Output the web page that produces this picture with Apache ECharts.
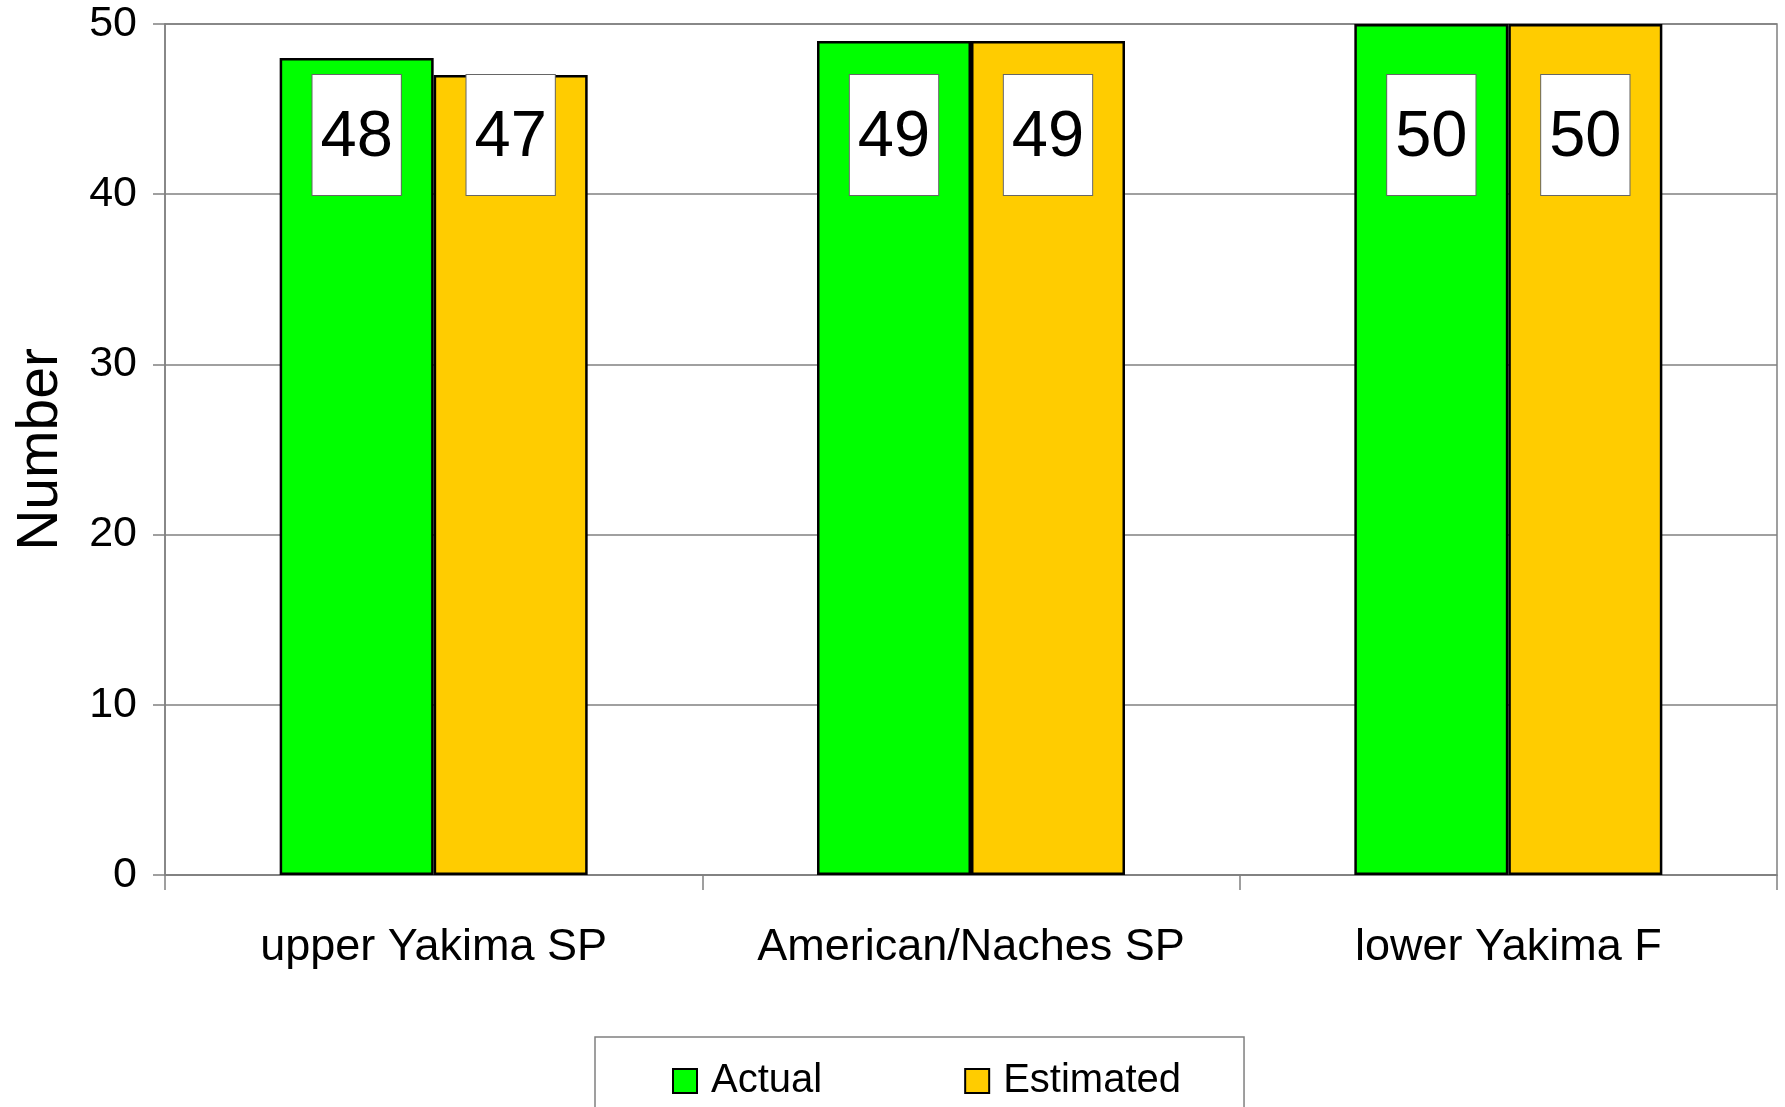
<!DOCTYPE html>
<html>
<head>
<meta charset="utf-8">
<script src="https://cdn.jsdelivr.net/npm/echarts@6/dist/echarts.min.js"></script>
<style>
html,body{margin:0;padding:0;background:#fff;}
#chart{width:1785px;height:1107px;}
</style>
</head>
<body>
<div id="chart"></div>
<script>
const categories = ['upper Yakima SP', 'American/Naches SP', 'lower Yakima F'];
const actualValues = [48, 49, 50];
const estimatedValues = [47, 49, 50];
const seriesNames = ['Actual', 'Estimated'];

const FONT = '"Liberation Sans", Arial, Helvetica, sans-serif';
const chart = echarts.init(document.getElementById('chart'), null, {renderer: 'canvas'});

const labelStyle = {
  show: true,
  position: 'insideBottom',
  distance: 680,
  fontFamily: FONT,
  fontSize: 65,
  color: '#000',
  backgroundColor: '#fff',
  borderColor: '#666',
  borderWidth: 1,
  padding: [6, 8, 0, 8],
  lineHeight: 114
};

chart.setOption({
  backgroundColor: '#fff',
  animation: false,
  grid: {
    left: 165, right: 8, top: 24, bottom: 232,
    show: true, borderColor: '#808080', borderWidth: 1.5, backgroundColor: 'transparent'
  },
  legend: {
    data: seriesNames,
    left: 595, top: 1037,
    orient: 'horizontal',
    itemWidth: 24, itemHeight: 24, itemGap: 142,
    padding: [24, 63, 60, 77],
    borderColor: '#808080', borderWidth: 1.5,
    backgroundColor: '#fff',
    icon: 'rect',
    textStyle: {fontFamily: FONT, fontSize: 40, color: '#000', padding: [0, 0, 0, 9]}
  },
  xAxis: {
    type: 'category',
    data: categories,
    axisLine: {lineStyle: {color: '#808080', width: 1.5}},
    axisTick: {show: true, interval: 0, length: 15, lineStyle: {color: '#808080', width: 1.5}},
    axisLabel: {interval: 0, fontFamily: FONT, fontSize: 45, color: '#000', margin: 50},
    splitLine: {show: false}
  },
  yAxis: {
    type: 'value',
    min: 0, max: 50, interval: 10,
    name: 'Number',
    nameLocation: 'middle',
    nameGap: 95,
    nameTextStyle: {fontFamily: FONT, fontSize: 57, color: '#000'},
    axisLine: {show: true, lineStyle: {color: '#808080', width: 1.5}},
    axisTick: {show: true, length: 12, lineStyle: {color: '#808080', width: 1.5}},
    axisLabel: {fontFamily: FONT, fontSize: 43, color: '#000', margin: 28},
    splitLine: {show: true, lineStyle: {color: '#808080', width: 1.5}}
  },
  series: [
    {
      name: seriesNames[0], type: 'bar', data: actualValues,
      barWidth: 154, barGap: '0%',
      itemStyle: {color: '#00FF00', borderColor: '#000', borderWidth: 2.5},
      label: labelStyle
    },
    {
      name: seriesNames[1], type: 'bar', data: estimatedValues,
      barWidth: 154, barGap: '0%',
      itemStyle: {color: '#FFCC00', borderColor: '#000', borderWidth: 2.5},
      label: labelStyle
    }
  ]
});
</script>
</body>
</html>
